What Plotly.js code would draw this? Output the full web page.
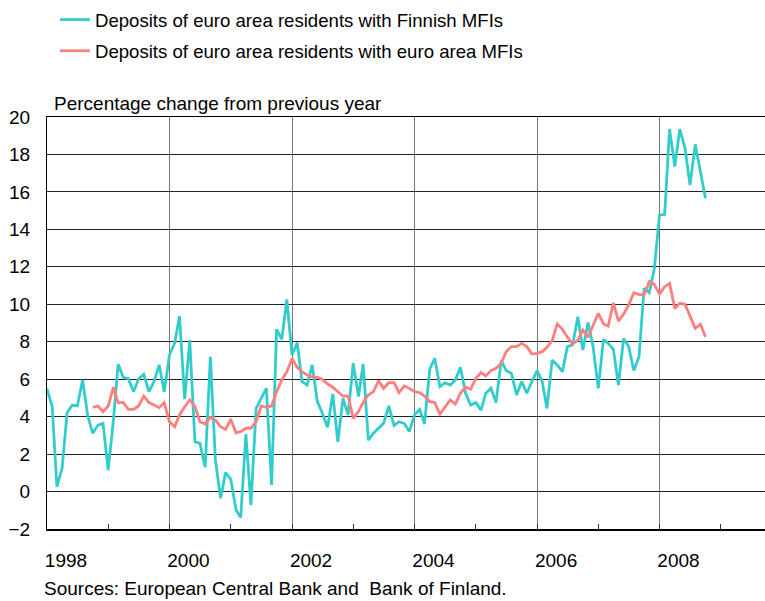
<!DOCTYPE html>
<html>
<head>
<meta charset="utf-8">
<script src="https://cdn.plot.ly/plotly-3.0.1.min.js"></script>
<style>html,body{margin:0;padding:0;background:#fff}#chart{width:765px;height:601px}</style>
</head>
<body>
<div id="chart"></div>
<script>
// Monthly year-on-year percentage change in deposits
const seriesNames = [
  'Deposits of euro area residents with Finnish MFIs',
  'Deposits of euro area residents with euro area MFIs'
];
const finnishStart = '1998-01';
const finnishMFIs = [
  5.5, 4.53, 0.26, 1.24, 4.21, 4.62, 4.57, 5.96, 4.03, 3.11, 3.55, 3.64,
  1.15, 3.82, 6.81, 6.10, 6.03, 5.33, 6.01, 6.26, 5.33, 5.87, 6.76, 5.33,
  7.29, 7.91, 9.37, 4.93, 8.09, 2.66, 2.57, 1.30, 7.20, 1.69, -0.36, 1.01,
  0.65, -0.99, -1.38, 3.07, -0.72, 4.44, 4.98, 5.51, 0.35, 8.66, 8.13, 10.26,
  7.29, 7.95, 5.87, 5.69, 6.76, 4.80, 4.18, 3.43, 5.21, 2.66, 4.98, 4.09,
  6.85, 5.07, 6.81, 2.75, 3.11, 3.38, 3.64, 4.57, 3.52, 3.73, 3.64, 3.20,
  4.09, 4.39, 3.61, 6.53, 7.11, 5.60, 5.81, 5.69, 5.96, 6.63, 5.25, 4.62,
  4.75, 4.35, 5.25, 5.51, 4.75, 6.99, 6.46, 6.31, 5.16, 5.87, 5.25, 5.87,
  6.46, 5.87, 4.44, 7.02, 6.76, 6.40, 7.74, 7.83, 9.34, 7.56, 9.02, 7.74,
  5.51, 8.13, 7.91, 7.59, 5.69, 8.18, 7.74, 6.46, 7.20, 10.85, 10.62, 11.9,
  14.77, 14.80, 19.36, 17.35, 19.36, 18.33, 16.37, 18.54, 17.08, 15.66
];
const euroAreaStart = '1998-10';
const euroAreaMFIs = [
  4.50, 4.57, 4.27,
  4.57, 5.57, 4.75, 4.76, 4.39, 4.39, 4.57, 5.10, 4.75, 4.62, 4.48, 4.75,
  3.73, 3.46, 4.09, 4.53, 4.89, 4.53, 3.73, 3.61, 3.96, 3.82, 3.46, 3.32,
  3.86, 3.14, 3.20, 3.38, 3.38, 3.73, 4.57, 4.50, 4.57, 5.33, 5.96, 6.40,
  7.11, 6.63, 6.40, 6.22, 6.13, 6.10, 5.99, 5.74, 5.57, 5.33, 5.10, 5.10,
  3.91, 4.27, 4.75, 5.16, 5.33, 5.92, 5.51, 5.81, 5.81, 5.28, 5.64, 5.51,
  5.33, 5.28, 5.10, 4.80, 4.75, 4.14, 4.53, 4.89, 4.67, 5.25, 5.57, 5.46,
  6.05, 6.35, 6.17, 6.46, 6.58, 6.85, 7.47, 7.74, 7.74, 7.91, 7.74, 7.34,
  7.38, 7.47, 7.70, 8.06, 8.95, 8.66, 8.24, 7.88, 8.09, 8.63, 8.24, 8.89,
  9.52, 8.95, 8.84, 10.08, 9.10, 9.48, 9.96, 10.62, 10.52, 10.52, 11.21, 11.05,
  10.55, 10.94, 11.12, 9.78, 10.05, 10.0, 9.34, 8.72, 8.93, 8.27
];
const yAxisTitle = 'Percentage change from previous year';
const sourceNote = 'Sources: European Central Bank and\u00a0 Bank of Finland.';

function monthDates(start, n) {
  let [y, m] = start.split('-').map(Number);
  const out = [];
  for (let i = 0; i < n; i++) {
    out.push(y + '-' + String(m).padStart(2, '0') + '-01');
    m++; if (m > 12) { m = 1; y++; }
  }
  return out;
}

const colors = ['#33CCCC', '#FF7F7F'];
const traces = [
  {x: monthDates(finnishStart, finnishMFIs.length), y: finnishMFIs, name: seriesNames[0],
   type: 'scatter', mode: 'lines', line: {color: colors[0], width: 2.8}, legendgroup: 'a'},
  {x: monthDates(euroAreaStart, euroAreaMFIs.length), y: euroAreaMFIs, name: seriesNames[1],
   type: 'scatter', mode: 'lines', line: {color: colors[1], width: 2.8}, legendgroup: 'b'}
];

const font = '"Liberation Sans", Arial, sans-serif';
const layout = {
  width: 765, height: 601,
  margin: {l: 47, r: 0, t: 117, b: 72, autoexpand: false},
  paper_bgcolor: '#ffffff', plot_bgcolor: '#ffffff',
  font: {family: font, size: 19, color: '#000'},
  showlegend: true,
  legend: {x: 0.0111, y: 1.2816, xanchor: 'left', yanchor: 'top', traceorder: 'grouped',
           tracegroupgap: 4, itemwidth: 30, bgcolor: 'rgba(0,0,0,0)',
           font: {family: font, size: 18.6, color: '#000'}},
  xaxis: {type: 'date', range: ['1998-01-01', '2009-09-21'], tick0: '1998-01-01', dtick: 'M24',
          tickformat: '%Y', ticks: 'inside', ticklen: 5, tickcolor: '#333', tickwidth: 1,
          showgrid: true, gridcolor: '#777', gridwidth: 1,
          showline: true, linecolor: '#000', linewidth: 1.5, mirror: true,
          ticklabelshift: 19, ticklabelstandoff: 14,
          minor: {dtick: 'M12', tick0: '1998-01-01', ticks: 'inside', ticklen: 5, tickcolor: '#333', showgrid: false},
          tickfont: {family: font, size: 19, color: '#000'}, fixedrange: true},
  yaxis: {range: [-2, 20], tick0: 0, dtick: 2, ticks: '', showgrid: true, gridcolor: '#222', gridwidth: 1,
          showline: true, linecolor: '#000', linewidth: 1, zeroline: false,
          ticklabelstandoff: 12, tickfont: {family: font, size: 19, color: '#000'}, fixedrange: true},
  annotations: [
    {text: yAxisTitle, xref: 'paper', yref: 'paper', x: 0.00696, y: 1.0316, xanchor: 'left', yanchor: 'middle',
     showarrow: false, font: {family: font, size: 19, color: '#000'}},
    {text: sourceNote, xref: 'paper', yref: 'paper', x: -0.00696, y: -0.1456, xanchor: 'left', yanchor: 'middle',
     showarrow: false, font: {family: font, size: 19, color: '#000'}}
  ]
};

Plotly.newPlot('chart', traces, layout, {displayModeBar: false, staticPlot: true});
</script>
</body>
</html>
